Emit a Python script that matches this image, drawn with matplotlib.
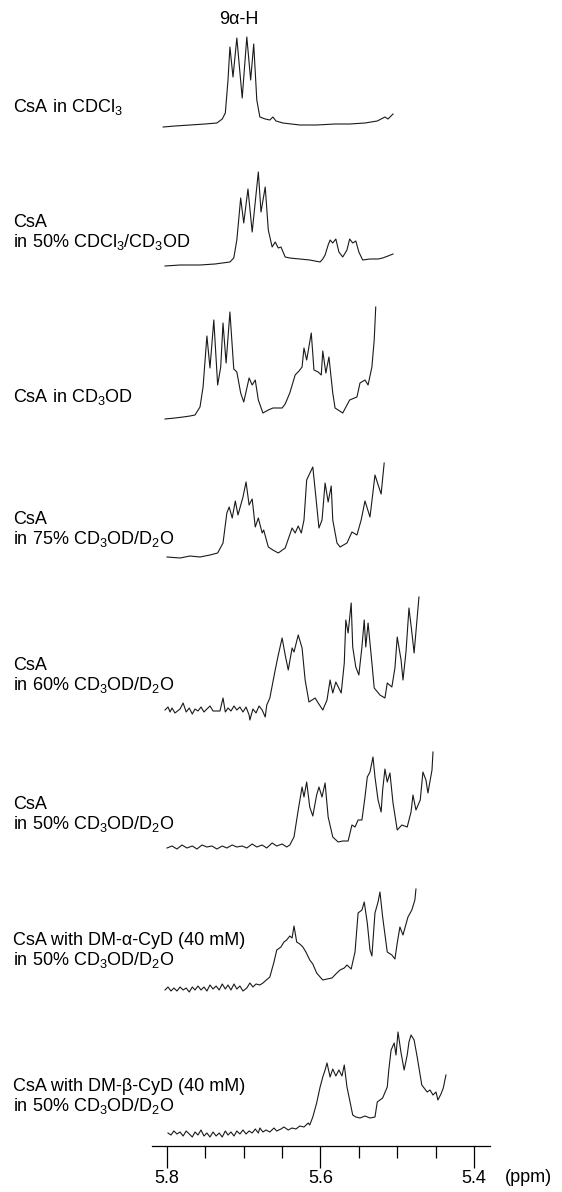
import matplotlib
matplotlib.use("Agg")
import matplotlib.pyplot as plt
from matplotlib.ticker import FixedLocator, FixedFormatter

plt.rcParams['font.family'] = ['Liberation Sans', 'DejaVu Sans']
plt.rcParams['mathtext.fontset'] = 'custom'
plt.rcParams['mathtext.rm'] = 'Liberation Sans'
plt.rcParams['mathtext.it'] = 'Liberation Sans:italic'
plt.rcParams['mathtext.bf'] = 'Liberation Sans:bold'

# ---------------- data (ppm, relative intensity) ----------------
labels = [
    "CsA in CDCl$_3$",
    "CsA\nin 50% CDCl$_3$/CD$_3$OD",
    "CsA in CD$_3$OD",
    "CsA\nin 75% CD$_3$OD/D$_2$O",
    "CsA\nin 60% CD$_3$OD/D$_2$O",
    "CsA\nin 50% CD$_3$OD/D$_2$O",
    "CsA with DM-\u03b1-CyD (40 mM)\nin 50% CD$_3$OD/D$_2$O",
    "CsA with DM-\u03b2-CyD (40 mM)\nin 50% CD$_3$OD/D$_2$O",
]

ppm1 = [5.805, 5.7896, 5.770, 5.7505, 5.735, 5.728, 5.724, 5.7205, 5.718, 5.714, 5.709, 5.702,
        5.696, 5.691, 5.687, 5.683, 5.679, 5.672, 5.666, 5.662, 5.658, 5.649, 5.627, 5.605,
        5.581, 5.562, 5.542, 5.526, 5.516, 5.512, 5.5055]
int1 = [0, 1, 2, 3, 4, 8, 14, 47, 80, 50, 89, 29,
        90, 47, 83, 27, 10, 8, 7, 10, 6, 4, 2, 2,
        3, 3, 4, 6, 10, 8, 13]

ppm2 = [5.8026, 5.783, 5.757, 5.7375, 5.718, 5.713, 5.709, 5.706, 5.704, 5.700, 5.6945, 5.689,
        5.681, 5.6775, 5.672, 5.668, 5.663, 5.659, 5.655, 5.6515, 5.646, 5.640, 5.627, 5.614,
        5.6005, 5.597, 5.594, 5.590, 5.5875, 5.584, 5.580, 5.576, 5.571, 5.5655, 5.562, 5.558,
        5.554, 5.550, 5.545, 5.5355, 5.525, 5.519, 5.512, 5.5055]
int2 = [0, 1, 1, 2, 4, 8, 26, 51, 68, 43, 77, 34,
        94, 54, 79, 36, 19, 24, 18, 19, 9, 8, 7, 6,
        4, 7, 11, 21, 26, 23, 27, 14, 9, 16, 27, 23,
        25, 14, 6, 7, 7, 8, 10, 12]

ppm3 = [5.8026, 5.7896, 5.779, 5.770, 5.7635, 5.757, 5.753, 5.748, 5.744, 5.739, 5.734, 5.730,
        5.727, 5.723, 5.718, 5.713, 5.709, 5.704, 5.700, 5.693, 5.689, 5.685, 5.681, 5.675,
        5.668, 5.662, 5.650, 5.646, 5.640, 5.633, 5.628, 5.624, 5.6215, 5.618, 5.612, 5.6085,
        5.603, 5.599, 5.597, 5.593, 5.589, 5.584, 5.581, 5.571, 5.562, 5.5525, 5.5485, 5.542,
        5.538, 5.533, 5.530, 5.528]
int3 = [0, 1, 2, 3, 4, 12, 32, 83, 51, 99, 34, 52,
        96, 56, 107, 50, 47, 26, 17, 41, 34, 39, 19, 6,
        9, 11, 11, 15, 26, 44, 48, 52, 71, 59, 86, 49,
        47, 44, 68, 46, 62, 26, 11, 6, 19, 22, 36, 39,
        34, 52, 79, 112]

ppm4 = [5.800, 5.783, 5.770, 5.757, 5.744, 5.734, 5.727, 5.722, 5.719, 5.715, 5.711, 5.7075,
        5.701, 5.697, 5.693, 5.689, 5.685, 5.681, 5.676, 5.674, 5.668, 5.662, 5.655, 5.646,
        5.637, 5.633, 5.629, 5.625, 5.6215, 5.618, 5.615, 5.610, 5.606, 5.602, 5.598, 5.594,
        5.590, 5.586, 5.584, 5.5785, 5.5745, 5.5655, 5.559, 5.5525, 5.547, 5.542, 5.5355, 5.5316,
        5.529, 5.521, 5.517]
int4 = [0, -1, 1, 0, 2, 4, 14, 44, 50, 39, 56, 42,
        60, 75, 52, 58, 30, 39, 24, 27, 10, 7, 4, 9,
        29, 24, 31, 24, 37, 77, 82, 90, 60, 29, 37, 74,
        55, 71, 37, 14, 10, 14, 25, 22, 37, 56, 40, 65,
        82, 63, 94]

ppm5 = [5.8026, 5.7987, 5.796, 5.7935, 5.7896, 5.783, 5.779, 5.775, 5.771, 5.767, 5.7635, 5.7596,
        5.7557, 5.7518, 5.748, 5.744, 5.740, 5.731, 5.727, 5.724, 5.7205, 5.7166, 5.7127, 5.709,
        5.705, 5.701, 5.697, 5.693, 5.692, 5.688, 5.684, 5.680, 5.676, 5.672, 5.670, 5.666,
        5.659, 5.655, 5.650, 5.646, 5.642, 5.637, 5.6345, 5.629, 5.624, 5.620, 5.615, 5.607,
        5.603, 5.597, 5.5915, 5.5875, 5.584, 5.580, 5.573, 5.569, 5.567, 5.564, 5.560, 5.558,
        5.554, 5.550, 5.546, 5.543, 5.541, 5.538, 5.533, 5.530, 5.5225, 5.516, 5.513, 5.507,
        5.503, 5.500, 5.495, 5.4925, 5.4886, 5.4847, 5.481, 5.478, 5.4717]
int5 = [0, 3, -2, 2, -3, 1, 7, -2, 2, -4, 1, -1,
        3, -2, 1, 4, -1, -1, 12, -2, 2, -1, 4, 0,
        3, -2, 3, -5, -10, 1, -3, 4, 0, -7, 5, 12,
        40, 55, 72, 55, 40, 62, 58, 75, 62, 30, 8, 12,
        7, 0, 10, 30, 17, 28, 17, 47, 90, 77, 107, 63,
        43, 35, 63, 90, 63, 87, 47, 22, 15, 12, 27, 23,
        42, 73, 50, 30, 58, 102, 78, 57, 113]

ppm6 = [5.800, 5.7935, 5.787, 5.7805, 5.774, 5.767, 5.761, 5.7544, 5.748, 5.7414, 5.735, 5.728,
        5.722, 5.715, 5.709, 5.702, 5.696, 5.689, 5.683, 5.676, 5.670, 5.663, 5.657, 5.650,
        5.644, 5.640, 5.6345, 5.629, 5.624, 5.6215, 5.618, 5.614, 5.610, 5.605, 5.602, 5.598,
        5.594, 5.590, 5.584, 5.577, 5.571, 5.564, 5.559, 5.555, 5.551, 5.546, 5.542, 5.539,
        5.5355, 5.5316, 5.529, 5.525, 5.521, 5.519, 5.516, 5.513, 5.5095, 5.5055, 5.500, 5.494,
        5.487, 5.482, 5.4795, 5.4756, 5.470, 5.4665, 5.4626, 5.460, 5.4547, 5.4534]
int6 = [0, 2, -1, 3, 0, 2, -1, 3, 1, 2, -1, 2,
        0, 3, 1, 2, 0, 4, 1, 3, 0, 5, 2, 4,
        1, 3, 11, 38, 61, 51, 66, 41, 32, 53, 61, 51,
        65, 31, 11, 6, 7, 7, 23, 21, 28, 28, 51, 71,
        76, 91, 71, 48, 36, 58, 79, 66, 75, 45, 18, 23,
        21, 36, 53, 38, 48, 76, 68, 55, 78, 96]

ppm7 = [5.8026, 5.7987, 5.7948, 5.791, 5.787, 5.783, 5.779, 5.775, 5.771, 5.767, 5.7635, 5.7596,
        5.7557, 5.7518, 5.748, 5.744, 5.740, 5.736, 5.732, 5.728, 5.724, 5.7205, 5.7166, 5.7127,
        5.709, 5.705, 5.701, 5.696, 5.692, 5.688, 5.684, 5.679, 5.675, 5.666, 5.6606, 5.657,
        5.6515, 5.6476, 5.644, 5.640, 5.637, 5.6345, 5.631, 5.627, 5.623, 5.619, 5.614, 5.610,
        5.605, 5.6005, 5.597, 5.5915, 5.585, 5.580, 5.5745, 5.569, 5.5655, 5.560, 5.555, 5.551,
        5.546, 5.543, 5.539, 5.5355, 5.533, 5.529, 5.525, 5.5225, 5.519, 5.513, 5.507, 5.503,
        5.500, 5.4965, 5.4925, 5.486, 5.481, 5.477, 5.4756]
int7 = [0, 3, -1, 2, -1, 3, 0, 2, -2, 3, 0, 4,
        0, 3, -1, 5, 1, 4, 0, 6, 1, 5, 0, 6,
        1, 4, -1, 2, 7, 3, 6, 5, 7, 13, 28, 40,
        43, 48, 50, 54, 52, 64, 48, 46, 43, 38, 30, 26,
        17, 13, 10, 11, 12, 16, 20, 22, 25, 21, 38, 77,
        80, 88, 67, 40, 34, 77, 88, 98, 73, 38, 35, 31,
        47, 63, 55, 73, 80, 90, 101]

ppm8 = [5.7987, 5.7948, 5.791, 5.787, 5.783, 5.779, 5.775, 5.771, 5.767, 5.7635, 5.7596, 5.7557,
        5.7518, 5.748, 5.744, 5.740, 5.736, 5.732, 5.728, 5.724, 5.7205, 5.7166, 5.7127, 5.709,
        5.705, 5.701, 5.697, 5.693, 5.689, 5.685, 5.681, 5.679, 5.675, 5.671, 5.666, 5.6606,
        5.657, 5.6515, 5.6476, 5.642, 5.637, 5.632, 5.627, 5.6215, 5.616, 5.614, 5.610, 5.605,
        5.6005, 5.597, 5.594, 5.5915, 5.5875, 5.584, 5.580, 5.576, 5.572, 5.569, 5.5655, 5.562,
        5.558, 5.554, 5.5485, 5.542, 5.5355, 5.529, 5.526, 5.5225, 5.519, 5.513, 5.511, 5.508,
        5.504, 5.5016, 5.499, 5.495, 5.491, 5.487, 5.4847, 5.482, 5.478, 5.474, 5.468, 5.461,
        5.4573, 5.4534, 5.4495, 5.447, 5.443, 5.440, 5.4365]
int8 = [0, -2, 2, -1, 1, -3, 2, -1, -4, 1, -2, 3,
        -3, 0, -4, 1, -3, 0, -4, 2, -2, 1, -3, 2,
        -1, 3, -1, 2, 0, 4, 0, 5, 1, 3, 1, 5,
        2, 4, 6, 3, 5, 4, 7, 6, 10, 8, 16, 30,
        46, 56, 63, 70, 56, 64, 57, 63, 57, 68, 46, 33,
        18, 16, 15, 17, 15, 16, 31, 33, 35, 46, 63, 83,
        90, 78, 101, 80, 63, 78, 91, 98, 93, 76, 48, 41,
        43, 38, 41, 33, 39, 45, 58]

ppm_series = [ppm1, ppm2, ppm3, ppm4, ppm5, ppm6, ppm7, ppm8]
int_series = [int1, int2, int3, int4, int5, int6, int7, int8]

major_ticks = [5.8, 5.6, 5.4]
major_labels = ["5.8", "5.6", "5.4"]
minor_ticks = [5.75, 5.70, 5.65, 5.55, 5.50, 5.45]

# ---------------- layout ----------------
W, H = 562, 1192
baselines = [127, 266, 419, 557, 710, 848, 990, 1133]   # pixel rows of each trace baseline
label_rows = [107, 233, 397, 530, 676, 815, 951, 1097]  # centre rows of the labels

fig = plt.figure(figsize=(W / 100, H / 100), dpi=100)
ax = fig.add_axes([0, 0, 1, 1])
ax.set_xlim(6.0176, 5.2853)
ax.set_ylim(H, 0)

for ppm, inten, base in zip(ppm_series, int_series, baselines):
    ax.plot(ppm, [base - v for v in inten], color="#1a1a1a", lw=0.8)

fs = 13
for lab, row in zip(labels, label_rows):
    fig.text(13 / W, 1 - row / H, lab, fontsize=fs, ha="left", va="center",
             linespacing=1.05)

ax.text(5.707, 19, "9\u03b1-H", fontsize=fs, ha="center", va="center")

# ppm axis
for s in ["left", "right", "top"]:
    ax.spines[s].set_visible(False)
ax.spines["bottom"].set_position(("data", 1146))
ax.spines["bottom"].set_bounds(5.8195, 5.379)
ax.spines["bottom"].set_linewidth(0.9)
ax.yaxis.set_visible(False)
ax.xaxis.set_major_locator(FixedLocator(major_ticks))
ax.xaxis.set_major_formatter(FixedFormatter(major_labels))
ax.xaxis.set_minor_locator(FixedLocator(minor_ticks))
ax.tick_params(axis="x", which="major", direction="out", length=16, width=0.9,
               labelsize=fs, pad=1)
ax.tick_params(axis="x", which="minor", direction="out", length=8.5, width=0.9)
ax.patch.set_visible(False)

fig.text(505 / W, 1 - 1177 / H, "(ppm)", fontsize=fs, ha="left", va="center")

fig.savefig("out.png", dpi=100)
